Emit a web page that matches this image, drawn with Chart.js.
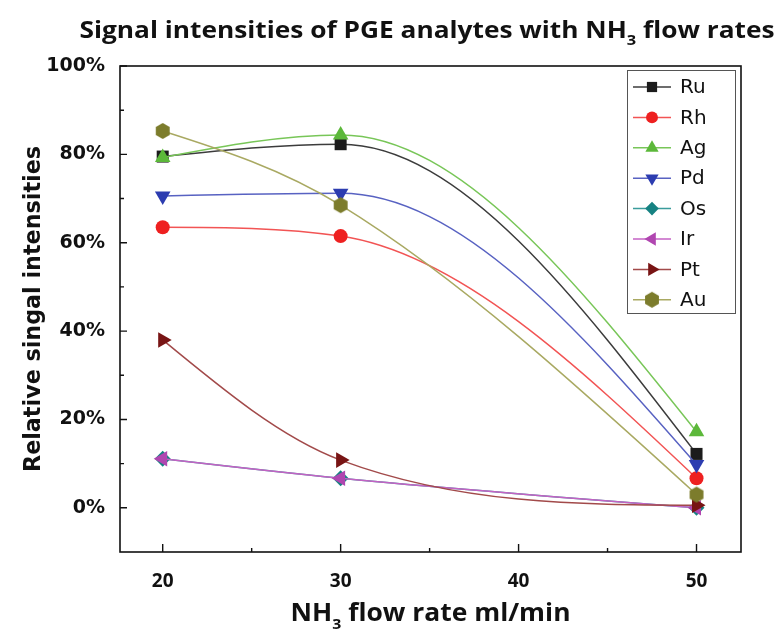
<!DOCTYPE html>
<html>
<head>
<meta charset="utf-8">
<script src="https://cdn.jsdelivr.net/npm/chart.js@4.4.1/dist/chart.umd.min.js"></script>
<style>
  html, body { margin: 0; padding: 0; background: #ffffff; }
  #wrap { width: 778px; height: 630px; position: relative; }
</style>
</head>
<body>
<div id="wrap"><canvas id="chart" width="778" height="630"></canvas></div>
<script>
// NH3 flow rate (ml/min) at which each analyte was measured
const flowRates = [20, 30, 50];

// Relative signal intensity (%) for each PGE analyte
const ru = [79.5, 82.3, 12.2];
const rh = [63.5, 61.5, 6.7];
const ag = [79.3, 84.4, 17.2];
const pd = [70.6, 71.2, 9.8];
const os = [11.1, 6.7, 0.0];
const ir = [11.1, 6.7, 0.0];
const pt = [38.0, 10.8, 0.6];
const au = [85.3, 68.5, 3.0];

const seriesNames = ['Ru', 'Rh', 'Ag', 'Pd', 'Os', 'Ir', 'Pt', 'Au'];
const seriesValues = [ru, rh, ag, pd, os, ir, pt, au];

// Axis tick values
const xTickValues = [20, 30, 40, 50];
const xMinorTicks = [25, 35, 45];
const yTickValues = [0, 20, 40, 60, 80, 100];
const yMinorTicks = [10, 30, 50, 70, 90];

// Text
const titleParts = [['Signal intensities of PGE analytes with NH', false], ['3', true], [' flow rates', false]];
const xTitleParts = [['NH', false], ['3', true], [' flow rate ml/min', false]];
const yTitle = 'Relative singal intensities';

// Olive hexagon marker (no built-in hexagon point style)
function makeHexagon(r, color) {
  const c = document.createElement('canvas');
  const s = Math.ceil(r * 2 + 2);
  c.width = s; c.height = s;
  const g = c.getContext('2d');
  g.fillStyle = color;
  g.beginPath();
  for (let i = 0; i < 6; i++) {
    const a = Math.PI / 2 + i * Math.PI / 3;
    const px = s / 2 + r * Math.cos(a), py = s / 2 - r * Math.sin(a);
    if (i === 0) g.moveTo(px, py); else g.lineTo(px, py);
  }
  g.closePath();
  g.fill();
  return c;
}

const styles = [
  { marker: '#1c1c1c', line: '#3c3c3c', pointStyle: 'rect', radius: 8.5, rotation: 0 },
  { marker: '#ee2020', line: '#f25454', pointStyle: 'circle', radius: 7, rotation: 0 },
  { marker: '#5cb83a', line: '#78c658', pointStyle: 'triangle', radius: 9, rotation: 0 },
  { marker: '#2c3cb0', line: '#5862c2', pointStyle: 'triangle', radius: 9, rotation: 180 },
  { marker: '#168282', line: '#3a9c9c', pointStyle: 'rectRot', radius: 8, rotation: 0 },
  { marker: '#b046b0', line: '#c462c4', pointStyle: 'triangle', radius: 9, rotation: -90 },
  { marker: '#781414', line: '#a24a4a', pointStyle: 'triangle', radius: 9, rotation: 90 },
  { marker: '#7c7c2c', line: '#a9a962', pointStyle: makeHexagon(8, '#7c7c2c'), radius: 8, rotation: 0 }
];

const datasets = seriesNames.map((name, i) => ({
  label: name,
  data: flowRates.map((x, k) => ({ x: x, y: seriesValues[i][k] })),
  borderColor: styles[i].line,
  backgroundColor: styles[i].marker,
  pointBackgroundColor: styles[i].marker,
  pointBorderColor: styles[i].marker,
  pointBorderWidth: 0,
  pointStyle: styles[i].pointStyle,
  pointRadius: styles[i].radius,
  pointRotation: styles[i].rotation,
  borderWidth: 1.5,
  cubicInterpolationMode: 'monotone',
  fill: false,
  order: seriesNames.length - i
}));

// Smooth spline connection: monotone tangents at interior points,
// natural (zero-curvature) conditions at both ends.
const splinePlugin = {
  id: 'splineConnect',
  beforeDatasetDraw(chart, args) {
    const meta = args.meta;
    const line = meta.dataset;
    const pts = meta.data;
    if (!line || pts.length < 2) return;
    line.updateControlPoints(chart.chartArea, 'x');
    const n = pts.length;
    const d = [];
    for (let k = 0; k < n - 1; k++) {
      d.push((pts[k + 1].y - pts[k].y) / (pts[k + 1].x - pts[k].x));
    }
    const m = new Array(n).fill(0);
    for (let k = 1; k < n - 1; k++) {
      if (d[k - 1] * d[k] <= 0) { m[k] = 0; continue; }
      let mk = (d[k - 1] + d[k]) / 2;
      const a = mk / d[k - 1], b = mk / d[k];
      const s = a * a + b * b;
      if (s > 9) mk *= 3 / Math.sqrt(s);
      m[k] = mk;
    }
    if (n === 2) { m[0] = d[0]; m[1] = d[0]; }
    else {
      m[0] = (3 * d[0] - m[1]) / 2;
      m[n - 1] = (3 * d[n - 2] - m[n - 2]) / 2;
    }
    for (let k = 0; k < n - 1; k++) {
      const p = pts[k], q = pts[k + 1];
      const h = (q.x - p.x) / 3;
      p.cp2x = p.x + h; p.cp2y = p.y + m[k] * h;
      q.cp1x = q.x - h; q.cp1y = q.y - m[k + 1] * h;
    }
  }
};

function drawParts(ctx, parts, cx, baseline, font, subFont, subDrop, targetWidth) {
  ctx.save();
  let total = 0;
  const widths = parts.map(([t, sub]) => {
    ctx.font = sub ? subFont : font;
    const w = ctx.measureText(t).width;
    total += w;
    return w;
  });
  const sx = targetWidth ? targetWidth / total : 1;
  ctx.translate(cx - total * sx / 2, baseline);
  ctx.scale(sx, 1);
  ctx.textBaseline = 'alphabetic';
  ctx.textAlign = 'left';
  ctx.fillStyle = '#111111';
  let x = 0;
  parts.forEach(([t, sub], i) => {
    ctx.font = sub ? subFont : font;
    ctx.fillText(t, x, sub ? subDrop : 0);
    x += widths[i];
  });
  ctx.restore();
}

const framePlugin = {
  id: 'frameTicks',
  afterDatasetsDraw(chart) {
    const ctx = chart.ctx, a = chart.chartArea;
    const sx = chart.scales.x, sy = chart.scales.y;
    ctx.save();
    ctx.strokeStyle = '#111111';
    ctx.lineWidth = 1.6;
    ctx.strokeRect(a.left, a.top, a.right - a.left, a.bottom - a.top);
    ctx.lineWidth = 1.4;
    ctx.beginPath();
    xTickValues.forEach(v => { const p = sx.getPixelForValue(v); ctx.moveTo(p, a.bottom); ctx.lineTo(p, a.bottom - 8); });
    xMinorTicks.forEach(v => { const p = sx.getPixelForValue(v); ctx.moveTo(p, a.bottom); ctx.lineTo(p, a.bottom - 4); });
    yTickValues.forEach(v => { const p = sy.getPixelForValue(v); ctx.moveTo(a.left, p); ctx.lineTo(a.left + 7, p); });
    yMinorTicks.forEach(v => { const p = sy.getPixelForValue(v); ctx.moveTo(a.left, p); ctx.lineTo(a.left + 4, p); });
    ctx.stroke();
    ctx.restore();
  }
};

function legendMarker(ctx, st, x, y) {
  if (window.Chart && Chart.helpers && Chart.helpers.drawPoint) {
    ctx.save();
    ctx.fillStyle = st.marker;
    ctx.strokeStyle = st.marker;
    ctx.lineWidth = 0;
    Chart.helpers.drawPoint(ctx, { pointStyle: st.pointStyle, radius: st.radius, rotation: st.rotation, borderWidth: 0 }, x, y);
    ctx.restore();
  }
}

const textPlugin = {
  id: 'texts',
  afterDraw(chart) {
    const ctx = chart.ctx, a = chart.chartArea;
    // chart title
    drawParts(ctx, titleParts, 427, 38, 'bold 24px "Open Sans"', 'bold 15px "Open Sans"', 7, 695);
    // x axis title
    drawParts(ctx, xTitleParts, (a.left + a.right) / 2, 621, 'bold 25px "Open Sans"', 'bold 15px "Open Sans"', 8, 280);
    // y axis title
    ctx.save();
    ctx.translate(40, (a.top + a.bottom) / 2);
    ctx.rotate(-Math.PI / 2);
    ctx.font = 'bold 23px "DejaVu Sans"';
    const w = ctx.measureText(yTitle).width;
    ctx.scale(326 / w, 1);
    ctx.textAlign = 'center';
    ctx.textBaseline = 'alphabetic';
    ctx.fillStyle = '#111111';
    ctx.fillText(yTitle, 0, 0);
    ctx.restore();

    // legend
    ctx.save();
    const bx = 627, by = 70, bw = 108, bh = 243;
    ctx.fillStyle = '#ffffff';
    ctx.fillRect(bx, by, bw, bh);
    ctx.strokeStyle = '#555555';
    ctx.lineWidth = 1;
    ctx.strokeRect(bx + 0.5, by + 0.5, bw, bh);
    chart.data.datasets.forEach((ds, i) => {
      const y = 87 + i * 30.4;
      const st = styles[i];
      ctx.strokeStyle = st.line;
      ctx.lineWidth = 1.5;
      ctx.beginPath();
      ctx.moveTo(633, y); ctx.lineTo(671, y);
      ctx.stroke();
      legendMarker(ctx, { marker: st.marker, pointStyle: st.pointStyle, radius: st.radius * 0.85, rotation: st.rotation }, 652, y);
      ctx.fillStyle = '#111111';
      ctx.font = '20px "DejaVu Sans"';
      ctx.textAlign = 'left';
      ctx.textBaseline = 'middle';
      ctx.fillText(ds.label, 680, y + 1);
    });
    ctx.restore();
  }
};

new Chart(document.getElementById('chart'), {
  type: 'line',
  data: { datasets: datasets },
  options: {
    responsive: false,
    animation: false,
    devicePixelRatio: 1,
    layout: { padding: { left: 0, top: 66, right: 37, bottom: 0 } },
    plugins: { legend: { display: false }, title: { display: false }, tooltip: { enabled: false } },
    scales: {
      x: {
        type: 'linear',
        min: 17.6,
        max: 52.5,
        grid: { display: false },
        border: { display: false },
        afterBuildTicks: s => { s.ticks = xTickValues.map(v => ({ value: v })); },
        afterFit: s => { s.height = 78; },
        ticks: {
          padding: 10,
          color: '#111111',
          font: { family: '"Open Sans"', size: 19, weight: 'bold' },
          callback: v => String(v)
        }
      },
      y: {
        type: 'linear',
        min: -10,
        max: 100,
        grid: { display: false },
        border: { display: false },
        afterBuildTicks: s => { s.ticks = yTickValues.map(v => ({ value: v })); },
        afterFit: s => { s.width = 120; },
        ticks: {
          padding: 7,
          color: '#111111',
          font: { family: '"DejaVu Sans"', size: 19, weight: 'bold' },
          callback: v => v + '%'
        }
      }
    }
  },
  plugins: [splinePlugin, framePlugin, textPlugin]
});
</script>
</body>
</html>
